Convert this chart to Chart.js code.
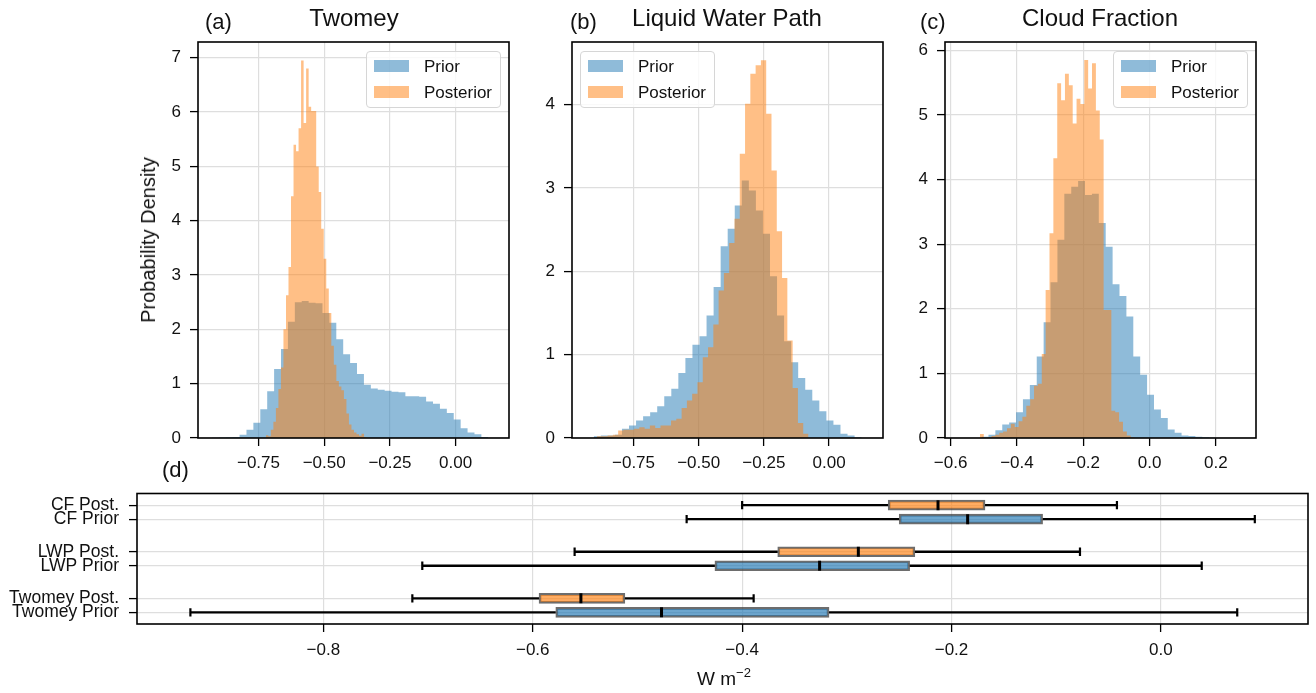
<!DOCTYPE html>
<html>
<head>
<meta charset="utf-8">
<script src="https://cdn.jsdelivr.net/npm/chart.js@4.4.1/dist/chart.umd.min.js"></script>
<style>
  body { margin: 0; background: #fff; width: 1316px; height: 693px; position: relative; overflow: hidden;
         font-family: "Liberation Sans", Arial, sans-serif; color: #111; }
  canvas { position: absolute; }
  .txt { position: absolute; white-space: nowrap; line-height: 1; }
  .title { font-size: 24px; transform: translateX(-50%); }
  .panel { font-size: 22px; }
  .legend { position: absolute; width: 135px; height: 57px; box-sizing: border-box;
            border: 1.5px solid #d6d6d6; border-radius: 4px; background: rgba(255,255,255,0.8); }
  .legend .patch { position: absolute; left: 7px; width: 35px; height: 12px; }
  .legend .lab { position: absolute; left: 57px; font-size: 17px; line-height: 1; }
  .prior { background: rgba(31,119,180,0.5); }
  .post { background: rgba(255,127,14,0.5); }
</style>
</head>
<body>
<canvas id="histA"></canvas>
<canvas id="histB"></canvas>
<canvas id="histC"></canvas>
<canvas id="boxD"></canvas>

<div class="txt panel" style="left:205px;top:11px">(a)</div>
<div class="txt title" style="left:354px;top:6px">Twomey</div>
<div class="txt panel" style="left:570px;top:11px">(b)</div>
<div class="txt title" style="left:727px;top:6px">Liquid Water Path</div>
<div class="txt panel" style="left:920px;top:11px">(c)</div>
<div class="txt title" style="left:1100px;top:6px">Cloud Fraction</div>
<div class="txt panel" style="left:162px;top:459px">(d)</div>
<div class="txt" style="left:148px;top:240px;font-size:20px;transform:translate(-50%,-50%) rotate(-90deg)">Probability Density</div>
<div class="txt" style="left:724px;top:669px;font-size:19px;transform:translateX(-50%)">W m<span style="font-size:13px;position:relative;top:-8px">−2</span></div>

<div class="legend" style="left:366px;top:51px">
  <div class="patch prior" style="top:8px"></div><div class="lab" style="top:6px">Prior</div>
  <div class="patch post" style="top:34px"></div><div class="lab" style="top:32px">Posterior</div>
</div>
<div class="legend" style="left:580px;top:51px">
  <div class="patch prior" style="top:8px"></div><div class="lab" style="top:6px">Prior</div>
  <div class="patch post" style="top:34px"></div><div class="lab" style="top:32px">Posterior</div>
</div>
<div class="legend" style="left:1113px;top:51px">
  <div class="patch prior" style="top:8px"></div><div class="lab" style="top:6px">Prior</div>
  <div class="patch post" style="top:34px"></div><div class="lab" style="top:32px">Posterior</div>
</div>

<script>
// ----- histogram data (densities per bin) -----
const twomeyPriorStart = -0.927, twomeyPriorWidth = 0.02628;
const twomeyPrior = [0.005, 0.01, 0.015, 0.02, 0.06, 0.15, 0.28, 0.53, 0.86, 1.27,
  1.64, 2.14, 2.50, 2.52, 2.49, 2.48, 2.30, 2.12, 1.82, 1.54,
  1.38, 1.18, 0.98, 0.91, 0.89, 0.87, 0.85, 0.84, 0.77, 0.77,
  0.76, 0.67, 0.63, 0.54, 0.46, 0.34, 0.18, 0.10, 0.07, 0.02];
const twomeyPostStart = -0.722, twomeyPostWidth = 0.00958;
const twomeyPost = [0.05, 0.03, 0.15, 0.30, 0.55, 0.90, 1.30, 2.00, 2.63, 3.15,
  4.45, 5.40, 5.28, 5.70, 6.95, 5.80, 6.80, 6.10, 6.02, 6.02,
  5.00, 4.53, 3.85, 3.30, 2.75, 2.30, 1.70, 1.35, 1.05, 0.95,
  0.88, 0.72, 0.45, 0.25, 0.15, 0.10, 0.07, 0.04, 0.08, 0.02];

const lwpPriorStart = -0.9025, lwpPriorWidth = 0.02704;
const lwpPrior = [0.02, 0.03, 0.03, 0.04, 0.11, 0.15, 0.21, 0.26, 0.31, 0.38,
  0.50, 0.59, 0.78, 0.96, 1.12, 1.22, 1.47, 1.81, 2.30, 2.51,
  2.79, 3.09, 2.97, 2.73, 2.45, 1.94, 1.47, 1.16, 0.91, 0.72,
  0.58, 0.45, 0.32, 0.21, 0.16, 0.05, 0.03, 0.01];
const lwpPostStart = -0.890, lwpPostWidth = 0.02028;
const lwpPost = [0.02, 0.02, 0.03, 0.04, 0.09, 0.10, 0.10, 0.11, 0.13, 0.11,
  0.15, 0.12, 0.15, 0.15, 0.21, 0.23, 0.36, 0.45, 0.53, 0.67,
  0.97, 1.09, 1.36, 1.77, 1.98, 2.34, 2.63, 3.41, 4.01, 4.37,
  4.47, 4.53, 3.89, 3.21, 2.48, 1.92, 1.17, 0.60, 0.18, 0.05];

const cfPriorStart = -0.5067, cfPriorWidth = 0.0208;
const cfPrior = [0.02, 0.05, 0.12, 0.21, 0.24, 0.40, 0.60, 0.82, 1.26, 1.79,
  2.41, 3.07, 3.78, 3.89, 3.98, 3.76, 3.78, 3.33, 2.96, 2.38,
  2.20, 1.88, 1.26, 0.98, 0.67, 0.44, 0.31, 0.13, 0.08, 0.04,
  0.03, 0.02, 0.01, 0.005];
const cfPostStart = -0.5117, cfPostWidth = 0.01166;
const cfPost = [0.06, 0.0, 0.01, 0.03, 0.05, 0.08, 0.10, 0.15, 0.22, 0.17,
  0.26, 0.33, 0.50, 0.60, 0.81, 0.84, 1.30, 2.29, 3.17, 4.33,
  5.49, 5.23, 5.64, 5.46, 4.87, 5.25, 5.17, 5.85, 5.41, 5.80,
  5.07, 4.62, 1.98, 1.98, 0.42, 0.40, 0.25, 0.10, 0.04, 0.01];

// ----- box plot data -----
const boxLabels = ['Twomey Prior', 'Twomey Post.', 'LWP Prior', 'LWP Post.', 'CF Prior', 'CF Post.'];
const boxMin = [-0.927, -0.715, -0.7055, -0.560, -0.453, -0.400];
const boxQ1  = [-0.578, -0.594, -0.426, -0.366, -0.250, -0.2605];
const boxMed = [-0.477, -0.554, -0.326, -0.289, -0.1846, -0.2129];
const boxQ3  = [-0.317, -0.512, -0.240, -0.235, -0.113, -0.168];
const boxMax = [0.0729, -0.389, 0.039, -0.0773, 0.0897, -0.042];

// ----- tick values -----
const histTicks2 = [-0.75, -0.5, -0.25, 0];
const histTicksC = [-0.6, -0.4, -0.2, 0, 0.2];
const boxTicks = [-0.8, -0.6, -0.4, -0.2, 0];

Chart.defaults.font.family = '"Liberation Sans", Arial, sans-serif';
Chart.defaults.font.size = 17;
Chart.defaults.color = '#111';

const PRIOR_FILL = 'rgba(31,119,180,0.5)';
const POST_FILL = 'rgba(255,127,14,0.5)';
const GRID = '#dedede';

// minus sign like matplotlib
function fmt(v, dec) {
  if (Math.abs(v) < 1e-9) v = 0;
  return v.toFixed(dec).replace('-', '\u2212');
}

// histogram outline: flat top over each bin
function histPoints(start, width, dens) {
  const pts = [];
  dens.forEach((h, i) => {
    pts.push({ x: start + i * width, y: h });
    pts.push({ x: start + (i + 1) * width, y: h });
  });
  return pts;
}

// black box around the plot area
const frame = {
  id: 'frame',
  afterDraw(chart) {
    const { ctx, chartArea: a } = chart;
    ctx.save();
    ctx.strokeStyle = '#000';
    ctx.lineWidth = 1.6;
    ctx.strokeRect(a.left, a.top, a.right - a.left, a.bottom - a.top);
    ctx.restore();
  }
};

function placeCanvas(id, area, pad) {
  const c = document.getElementById(id);
  const w = area.r - area.l + pad.l + pad.r;
  const h = area.b - area.t + pad.t + pad.b;
  c.width = w; c.height = h;
  c.style.left = (area.l - pad.l) + 'px';
  c.style.top = (area.t - pad.t) + 'px';
  c.style.width = w + 'px';
  c.style.height = h + 'px';
  return c;
}

function axisOpts(min, max, ticks, labelFn, fitSize, isX, pad) {
  return {
    type: 'linear', min: min, max: max, offset: false,
    afterFit: s => { if (isX) s.height = fitSize; else s.width = fitSize; },
    afterBuildTicks: s => { s.ticks = ticks.map(v => ({ value: v })); },
    ticks: { autoSkip: false, maxRotation: 0, padding: pad, callback: labelFn },
    grid: { offset: false, color: GRID, lineWidth: 1.2, tickColor: '#000', tickLength: 8, tickWidth: 1.3 },
    border: { display: false }
  };
}

function makeHist(id, area, xr, xt, xdec, ymax, yt, prior, post) {
  const pad = { l: 70, t: 20, r: 20, b: 50 };
  const c = placeCanvas(id, area, pad);
  return new Chart(c.getContext('2d'), {
    type: 'line',
    data: {
      datasets: [
        { label: 'Prior', data: histPoints(prior[0], prior[1], prior[2]), fill: 'origin',
          backgroundColor: PRIOR_FILL, borderColor: 'rgba(0,0,0,0)', borderWidth: 0, pointRadius: 0, order: 1 },
        { label: 'Posterior', data: histPoints(post[0], post[1], post[2]), fill: 'origin',
          backgroundColor: POST_FILL, borderColor: 'rgba(0,0,0,0)', borderWidth: 0, pointRadius: 0, order: 0 }
      ]
    },
    options: {
      responsive: false, animation: false, events: [],
      layout: { padding: { left: 0, top: pad.t, right: pad.r, bottom: 0 } },
      plugins: { legend: { display: false }, tooltip: { enabled: false } },
      scales: {
        x: axisOpts(xr[0], xr[1], xt, v => fmt(v, xdec), pad.b, true, 7.5),
        y: axisOpts(0, ymax, yt, v => fmt(v, 0), pad.l, false, 9)
      }
    },
    plugins: [frame]
  });
}

makeHist('histA', { l: 198, t: 42, r: 509, b: 438 }, [-0.980, 0.203], histTicks2, 2, 7.29, [0, 1, 2, 3, 4, 5, 6, 7],
  [twomeyPriorStart, twomeyPriorWidth, twomeyPrior], [twomeyPostStart, twomeyPostWidth, twomeyPost]);
makeHist('histB', { l: 572, t: 42, r: 883, b: 438 }, [-0.986, 0.207], histTicks2, 2, 4.75, [0, 1, 2, 3, 4],
  [lwpPriorStart, lwpPriorWidth, lwpPrior], [lwpPostStart, lwpPostWidth, lwpPost]);
makeHist('histC', { l: 945, t: 42, r: 1256, b: 438 }, [-0.617, 0.321], histTicksC, 1, 6.13, [0, 1, 2, 3, 4, 5, 6],
  [cfPriorStart, cfPriorWidth, cfPrior], [cfPostStart, cfPostWidth, cfPost]);

// ----- box plot (d) -----
const rowPos = boxLabels.map((_, i) => 1 + Math.floor(i / 2) + (i % 2 ? 0.15 : -0.15));
const boxFill = boxLabels.map((_, i) => i % 2 ? 'rgba(255,127,14,0.65)' : 'rgba(31,119,180,0.65)');

const whiskerPts = [];
const capPts = [];
boxLabels.forEach((_, i) => {
  const p = rowPos[i];
  whiskerPts.push({ x: boxMin[i], y: p }, { x: boxQ1[i], y: p }, { x: boxQ1[i], y: null });
  whiskerPts.push({ x: boxQ3[i], y: p }, { x: boxMax[i], y: p }, { x: boxMax[i], y: null });
  capPts.push({ x: boxMin[i], y: p }, { x: boxMax[i], y: p });
});

const padD = { l: 136, t: 20, r: 5, b: 50 };
const cD = placeCanvas('boxD', { l: 137, t: 493, r: 1311, b: 624 }, padD);
const yBox = axisOpts(0.6, 3.4, rowPos, (v, i) => boxLabels[i], padD.l, false, 10);
yBox.ticks.font = { size: 17.5 };
new Chart(cD.getContext('2d'), {
  type: 'bar',
  data: {
    datasets: [
      { type: 'scatter', label: 'Median', data: boxLabels.map((_, i) => ({ x: boxMed[i], y: rowPos[i] })),
        pointStyle: 'line', pointRotation: 90, pointRadius: 5, pointBorderWidth: 3,
        pointBorderColor: '#000', order: 0 },
      { type: 'scatter', label: 'Caps', data: capPts,
        pointStyle: 'line', pointRotation: 90, pointRadius: 4.2, pointBorderWidth: 2.2,
        pointBorderColor: '#000', order: 1 },
      { type: 'bar', label: 'IQR', indexAxis: 'y',
        data: boxLabels.map((_, i) => ({ x: [boxQ1[i], boxQ3[i]], y: rowPos[i] })),
        backgroundColor: boxFill, borderColor: 'rgba(60,60,60,0.75)', borderWidth: 2,
        borderSkipped: false, barThickness: 10, order: 2 },
      { type: 'line', label: 'Whiskers', data: whiskerPts, borderColor: '#000', borderWidth: 2.3,
        pointRadius: 0, spanGaps: false, fill: false, order: 3 }
    ]
  },
  options: {
    responsive: false, animation: false, events: [],
    layout: { padding: { left: 0, top: padD.t, right: padD.r, bottom: 0 } },
    plugins: { legend: { display: false }, tooltip: { enabled: false } },
    scales: {
      x: axisOpts(-0.978, 0.1405, boxTicks, v => fmt(v, 1), padD.b, true, 8),
      y: yBox
    }
  },
  plugins: [frame]
});
</script>
</body>
</html>
